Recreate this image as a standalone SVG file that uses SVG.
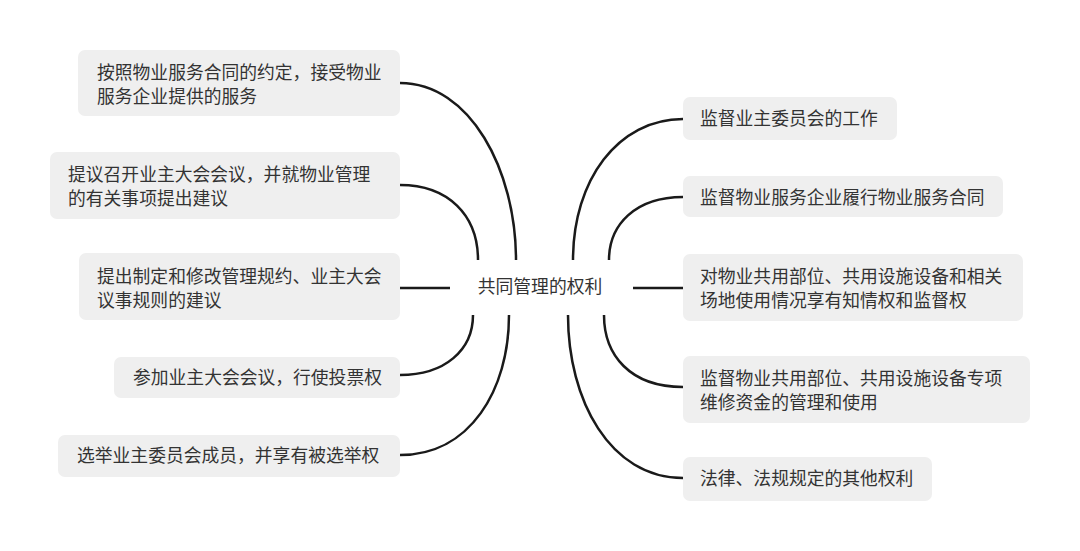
<svg xmlns="http://www.w3.org/2000/svg" width="1080" height="551" viewBox="0 0 1080 551">
<style>
.box{fill:#efefef}
.t{font-family:"Noto Sans CJK SC","Noto Sans",sans-serif;font-size:17.8px;fill:#333333}
.c{fill:none;stroke:#1a1a1a;stroke-width:2.5;stroke-linecap:butt}
</style>
<rect width="1080" height="551" fill="#ffffff"/>
<g id="connectors">
<path class="c" d="M400,83 C470,83 516,170 516,260"/>
<path class="c" d="M400,185 C448,185 478,215 478,260"/>
<path class="c" d="M400,288 L450,288"/>
<path class="c" d="M400,375 C445,375 473,350 473,315"/>
<path class="c" d="M400,455 C470,455 509,390 509,315"/>
<path class="c" d="M683,119 C618,119 573,180 573,260"/>
<path class="c" d="M683,197 C635,197 609,225 609,260"/>
<path class="c" d="M633,288 L683,288"/>
<path class="c" d="M683,387 C630,387 604,355 604,315"/>
<path class="c" d="M683,478 C610,478 568,400 568,315"/>
</g>
<g id="center">
<text class="t" x="540" y="293" text-anchor="middle">共同管理的权利</text>
</g>
<g id="l1">
<rect class="box" x="78" y="50" width="322" height="66" rx="7"/>
<text class="t"><tspan x="97" y="78.5">按照物业服务合同的约定，接受物业</tspan><tspan x="97" y="102.5">服务企业提供的服务</tspan></text>
</g>
<g id="l2">
<rect class="box" x="50" y="152" width="350" height="67" rx="7"/>
<text class="t"><tspan x="68" y="181">提议召开业主大会会议，并就物业管理</tspan><tspan x="68" y="205">的有关事项提出建议</tspan></text>
</g>
<g id="l3">
<rect class="box" x="79" y="253" width="321" height="67" rx="7"/>
<text class="t"><tspan x="97" y="283">提出制定和修改管理规约、业主大会</tspan><tspan x="97" y="307">议事规则的建议</tspan></text>
</g>
<g id="l4">
<rect class="box" x="114" y="357" width="286" height="41" rx="7"/>
<text class="t" x="133" y="384">参加业主大会会议，行使投票权</text>
</g>
<g id="l5">
<rect class="box" x="58" y="435" width="342" height="42" rx="7"/>
<text class="t" x="77" y="462">选举业主委员会成员，并享有被选举权</text>
</g>
<g id="r1">
<rect class="box" x="683" y="97" width="214" height="43" rx="7"/>
<text class="t" x="700" y="125">监督业主委员会的工作</text>
</g>
<g id="r2">
<rect class="box" x="683" y="176" width="320" height="41" rx="7"/>
<text class="t" x="700" y="204">监督物业服务企业履行物业服务合同</text>
</g>
<g id="r3">
<rect class="box" x="683" y="254" width="340" height="67" rx="7"/>
<text class="t"><tspan x="700" y="282.5">对物业共用部位、共用设施设备和相关</tspan><tspan x="700" y="306.5">场地使用情况享有知情权和监督权</tspan></text>
</g>
<g id="r4">
<rect class="box" x="683" y="356" width="347" height="67" rx="7"/>
<text class="t"><tspan x="700" y="385">监督物业共用部位、共用设施设备专项</tspan><tspan x="700" y="409">维修资金的管理和使用</tspan></text>
</g>
<g id="r5">
<rect class="box" x="683" y="457" width="249" height="44" rx="7"/>
<text class="t" x="700" y="485">法律、法规规定的其他权利</text>
</g>
</svg>
